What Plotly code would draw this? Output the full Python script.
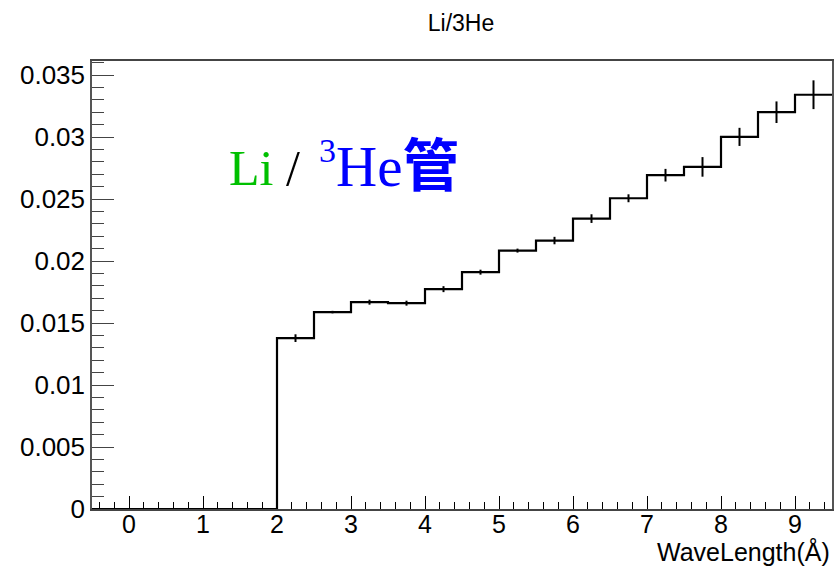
import plotly.graph_objects as go

# Data (bin width 0.5, from -0.5 to 9.5)
bin_edges_lo = [-0.5, 0.0, 0.5, 1.0, 1.5, 2.0, 2.5, 3.0, 3.5, 4.0,
                4.5, 5.0, 5.5, 6.0, 6.5, 7.0, 7.5, 8.0, 8.5, 9.0]
bin_width = 0.5
ratio_values = [0, 0, 0, 0, 0,
                0.01378, 0.01588, 0.01668, 0.01660, 0.01773,
                0.01910, 0.02084, 0.02165, 0.02342, 0.02506,
                0.02692, 0.02759, 0.03001, 0.03200, 0.03341]
ratio_errors = [0, 0, 0, 0, 0,
                0.00031, 0.00010, 0.00020, 0.00020, 0.00024,
                0.00020, 0.00016, 0.00030, 0.00035, 0.00032,
                0.00051, 0.00079, 0.00073, 0.00087, 0.00116]
x_tick_vals = [0, 1, 2, 3, 4, 5, 6, 7, 8, 9]
y_tick_vals = [0, 0.005, 0.01, 0.015, 0.02, 0.025, 0.03, 0.035]
y_tick_text = ["0", "0.005", "0.01", "0.015", "0.02", "0.025", "0.03", "0.035"]

W, H = 834, 566
ML, MR, MT, MB = 92, 0, 61, 57
PW, PH = W - ML - MR, H - MT - MB

# step outline
step_x = bin_edges_lo + [bin_edges_lo[-1] + bin_width]
step_y = ratio_values + [ratio_values[-1]]

centers = [e + bin_width / 2 for e, v in zip(bin_edges_lo, ratio_values) if v > 0]
vals = [v for v in ratio_values if v > 0]
errs = [er for er, v in zip(ratio_errors, ratio_values) if v > 0]

fig = go.Figure()
fig.add_trace(go.Scatter(
    x=step_x, y=step_y, mode="lines", line=dict(shape="hv", color="black", width=2.2),
    hoverinfo="skip", showlegend=False, cliponaxis=False))
fig.add_trace(go.Scatter(
    x=centers, y=vals, mode="markers", marker=dict(size=1, color="black", opacity=0),
    error_y=dict(type="data", array=errs, visible=True, width=0, thickness=2, color="black"),
    showlegend=False))

font_family = "Liberation Sans, Arial, Helvetica, sans-serif"
serif_family = "Liberation Serif, Times New Roman, Noto Sans CJK SC, serif"

fig.update_layout(
    width=W, height=H,
    margin=dict(l=ML, r=MR, t=MT, b=MB, pad=0),
    paper_bgcolor="white", plot_bgcolor="white",
    font=dict(family=font_family, size=25, color="black"),
    title=dict(text="Li/3He", x=461 / W, xref="container", xanchor="center",
               y=1 - 23 / H, yref="container", yanchor="middle",
               font=dict(family=font_family, size=23, color="black")),
    xaxis=dict(range=[-0.5, 9.5], showgrid=False, zeroline=False,
               tickmode="array", tickvals=x_tick_vals,
               ticks="inside", ticklen=13, tickwidth=1, tickcolor="black",
               minor=dict(ticks="inside", ticklen=7, dtick=0.2, tick0=0,
                          tickcolor="black", tickwidth=1, showgrid=False),
               showline=True, linecolor="#444", linewidth=1.5, mirror=True,
               tickfont=dict(size=25, family=font_family), ticklabelstandoff=-8),
    yaxis=dict(range=[0, 0.03613], showgrid=False, zeroline=False,
               tickmode="array", tickvals=y_tick_vals, ticktext=y_tick_text,
               ticks="inside", ticklen=22, tickwidth=1, tickcolor="#444",
               minor=dict(ticks="inside", ticklen=12, dtick=0.001, tick0=0,
                          tickcolor="#444", tickwidth=1, showgrid=False),
               showline=True, linecolor="#555", linewidth=1.5, mirror=True,
               tickfont=dict(size=26, family=font_family), ticklabelstandoff=0),
)

# x-axis title at bottom right
fig.add_annotation(text="WaveLength(Å)", xref="paper", yref="paper",
                   x=1.0, y=-(551 - 509) / PH, xanchor="right", yanchor="middle",
                   showarrow=False, font=dict(family=font_family, size=25, color="black"))

# in-plot label, part 1: "Li /"
fig.add_annotation(
    text='<span style="color:#00c000">Li</span> /',
    xref="paper", yref="paper",
    x=(228 - ML) / PW, y=(509 - 168) / PH,
    xanchor="left", yanchor="middle", showarrow=False, borderpad=0,
    font=dict(family=serif_family, size=50, color="black"))

# in-plot label, part 2: "3He管"
fig.add_annotation(
    text='<sup><span style="font-size:34px">3</span></sup>He<b>管</b>',
    xref="paper", yref="paper",
    x=(319 - ML) / PW, y=(509 - 165) / PH,
    xanchor="left", yanchor="middle", showarrow=False, borderpad=0,
    font=dict(family=serif_family, size=57, color="#0000ff"))

fig.write_html("out.html")
